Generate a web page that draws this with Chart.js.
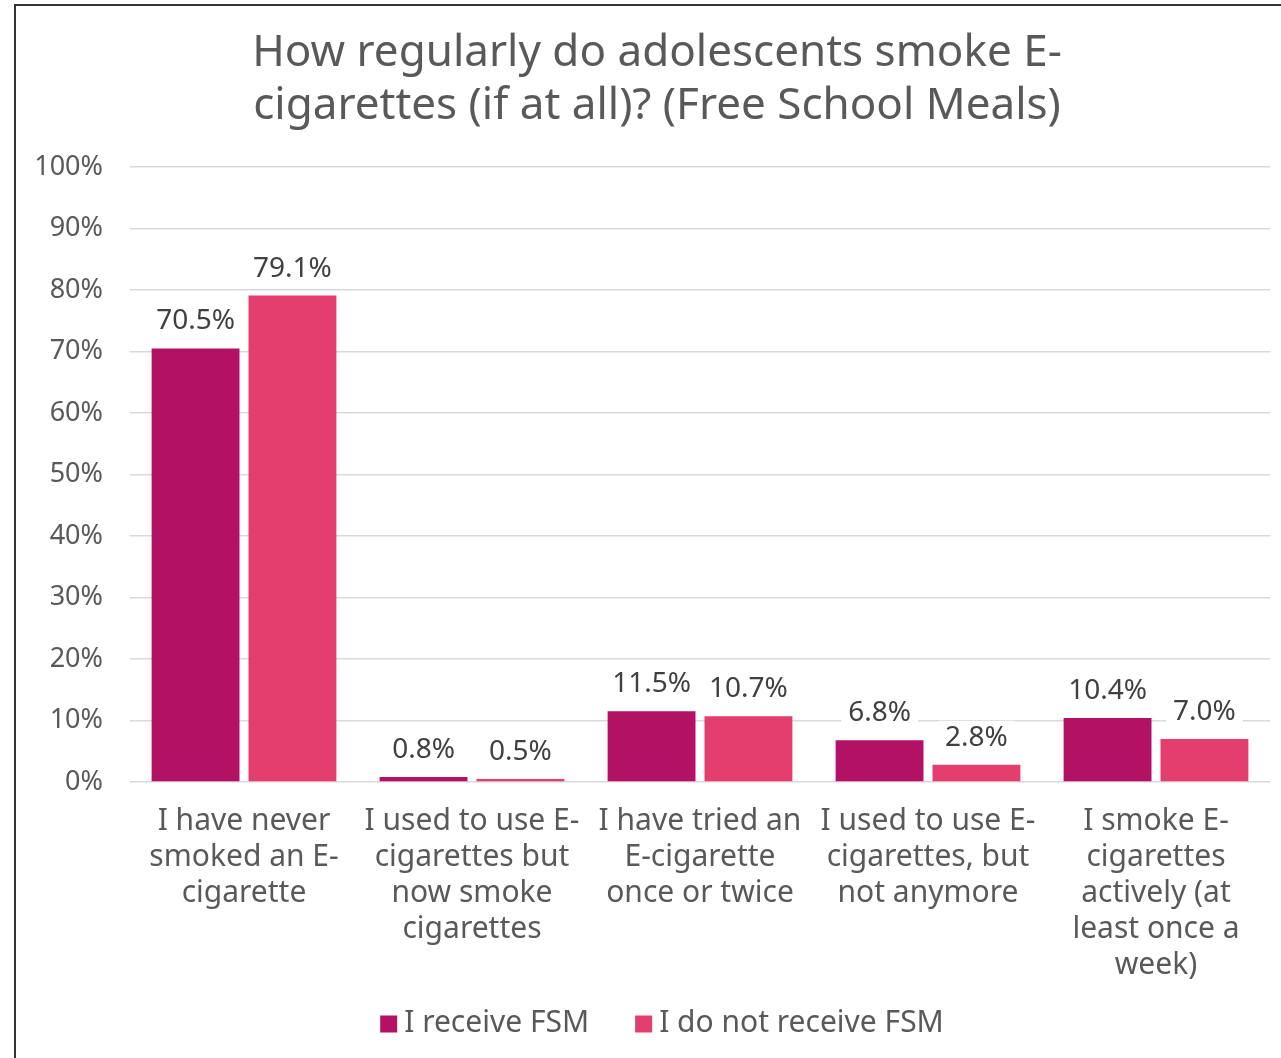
<!DOCTYPE html>
<html>
<head>
<meta charset="utf-8">
<script src="https://cdn.jsdelivr.net/npm/chart.js@4/dist/chart.umd.min.js"></script>
<style>
  html, body { margin: 0; padding: 0; background: #fff; overflow: hidden; }
  #wrap { position: relative; width: 1281px; height: 1058px; }
  #frame { position: absolute; left: 14px; top: 4px; width: 1400px; height: 1200px;
           border: 2px solid #333; box-sizing: border-box; pointer-events: none; }
  canvas { position: absolute; left: 0; top: 0; }
</style>
</head>
<body>
<div id="wrap">
  <canvas id="chart" width="1281" height="1058"></canvas>
  <div id="frame"></div>
</div>
<script>
const titleLines = ["How regularly do adolescents smoke E-", "cigarettes (if at all)? (Free School Meals)"];
const categories = [
  ["I have never", "smoked an E-", "cigarette"],
  ["I used to use E-", "cigarettes but", "now smoke", "cigarettes"],
  ["I have tried an", "E-cigarette", "once or twice"],
  ["I used to use E-", "cigarettes, but", "not anymore"],
  ["I smoke E-", "cigarettes", "actively (at", "least once a", "week)"]
];
const seriesNames = ["I receive FSM", "I do not receive FSM"];
const receiveFSM = [70.5, 0.8, 11.5, 6.8, 10.4];
const noFSM = [79.1, 0.5, 10.7, 2.8, 7.0];
const seriesColors = ["#B31264", "#E33E6E"];
const yTicks = [0, 10, 20, 30, 40, 50, 60, 70, 80, 90, 100];

const FONT = "'Noto Sans', 'DejaVu Sans', sans-serif";

// Two-line heading centred over the frame
const heading = {
  id: 'heading',
  afterDraw(chart) {
    const ctx = chart.ctx;
    ctx.save();
    ctx.font = "44px " + FONT;
    ctx.fillStyle = '#595959';
    ctx.textAlign = 'center';
    ctx.textBaseline = 'middle';
    titleLines.forEach((t, i) => ctx.fillText(t, 657, 53 + i * 53));
    ctx.restore();
  }
};

// Value labels above each bar, on a white box that breaks the gridlines
const valueLabels = {
  id: 'valueLabels',
  afterDatasetsDraw(chart) {
    const ctx = chart.ctx;
    ctx.save();
    ctx.font = "28px " + FONT;
    ctx.textAlign = 'center';
    ctx.textBaseline = 'middle';
    const items = [];
    chart.data.datasets.forEach((ds, i) => {
      chart.getDatasetMeta(i).data.forEach((bar, j) => {
        const txt = ds.data[j].toFixed(1) + '%';
        items.push({ x: bar.x, y: bar.y - 27, txt });
      });
    });
    ctx.fillStyle = '#fff';
    items.forEach(it => {
      const w = ctx.measureText(it.txt).width + 14;
      ctx.fillRect(it.x - w / 2, it.y - 17, w, 34);
    });
    ctx.fillStyle = '#404040';
    items.forEach(it => ctx.fillText(it.txt, it.x, it.y));
    ctx.restore();
  }
};

// Compact legend row under the axis: small square, short gap, label
const bottomLegend = {
  id: 'bottomLegend',
  afterDraw(chart) {
    const ctx = chart.ctx;
    ctx.save();
    ctx.font = "30px " + FONT;
    ctx.textBaseline = 'middle';
    ctx.textAlign = 'left';
    const box = 17, gap = 7, itemGap = 46, cy = 1023;
    const ds = chart.data.datasets;
    const widths = ds.map(d => box + gap + ctx.measureText(d.label).width);
    const total = widths.reduce((a, b) => a + b, 0) + itemGap * (ds.length - 1);
    let x = 662 - total / 2;
    ds.forEach((d, i) => {
      ctx.fillStyle = d.backgroundColor;
      ctx.fillRect(x, cy - box / 2 + 1, box, box);
      ctx.fillStyle = '#595959';
      ctx.fillText(d.label, x + box + gap, cy);
      x += widths[i] + itemGap;
    });
    ctx.restore();
  }
};

new Chart(document.getElementById('chart'), {
  type: 'bar',
  data: {
    labels: categories,
    datasets: [
      { label: seriesNames[0], data: receiveFSM, backgroundColor: seriesColors[0] },
      { label: seriesNames[1], data: noFSM, backgroundColor: seriesColors[1] }
    ]
  },
  options: {
    responsive: false,
    animation: false,
    devicePixelRatio: 1,
    datasets: { bar: { categoryPercentage: 0.85, barPercentage: 0.907 } },
    layout: { padding: { top: 167, left: 14, right: 11, bottom: 60 } },
    plugins: {
      title: { display: false },
      legend: { display: false },
      tooltip: { enabled: false }
    },
    scales: {
      x: {
        grid: { display: false },
        border: { display: false },
        ticks: {
          color: '#595959',
          font: { family: FONT, size: 30, lineHeight: 1.2 },
          maxRotation: 0, autoSkip: false, padding: 13
        },
        afterFit(s) { s.height = 216; }
      },
      y: {
        min: 0, max: 100,
        afterBuildTicks(s) { s.ticks = yTicks.map(v => ({ value: v })); },
        grid: { color: '#D9D9D9', lineWidth: 1.5, drawTicks: false },
        border: { display: false },
        ticks: {
          color: '#595959',
          font: { family: FONT, size: 27 },
          padding: 27,
          callback: v => v + '%'
        },
        afterFit(s) { s.width = 116; }
      }
    }
  },
  plugins: [valueLabels, bottomLegend, heading]
});
</script>
</body>
</html>
